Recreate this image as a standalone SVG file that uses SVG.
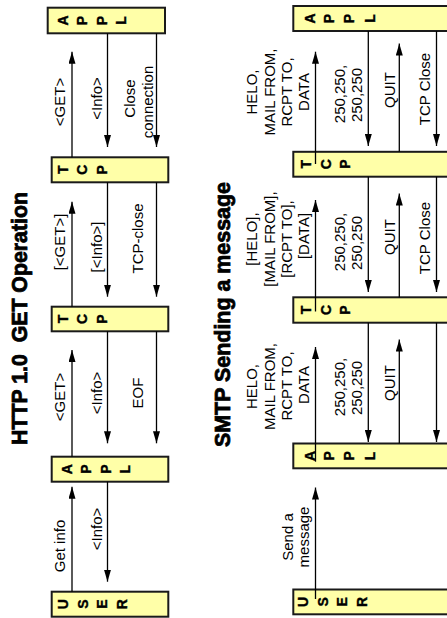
<svg xmlns="http://www.w3.org/2000/svg" width="447" height="618" viewBox="0 0 447 618">
<style>
.box{fill:#FFFFA8;stroke:#1a1a1a;stroke-width:2}
.lt{font-family:"Liberation Sans",Arial,sans-serif;font-weight:bold;font-size:14px;text-anchor:middle;dominant-baseline:central;fill:#000;stroke:#000;stroke-width:0.4}
.lb{font-family:"Liberation Sans",Arial,sans-serif;font-size:15px;text-anchor:middle;fill:#000}
.ttl{font-family:"Liberation Sans",Arial,sans-serif;font-weight:bold;font-size:22px;text-anchor:middle;fill:#000;stroke:#000;stroke-width:0.8}
.ar{stroke:#000;stroke-width:1.3;fill:none;marker-end:url(#ah)}
</style>
<defs>
<marker id="ah" viewBox="0 0 12 7" refX="12" refY="3.5" markerWidth="12" markerHeight="7" markerUnits="userSpaceOnUse" orient="auto"><path d="M0,0L12,3.5L0,7z" fill="#000"/></marker>
</defs>
<rect width="447" height="618" fill="#fff"/>

<!-- Titles -->
<text class="ttl" transform="translate(27,318.5) rotate(-90)" textLength="253" lengthAdjust="spacingAndGlyphs">HTTP 1.0&#160;&#160;GET Operation</text>
<text class="ttl" transform="translate(230,314.5) rotate(-90)" textLength="265" lengthAdjust="spacingAndGlyphs">SMTP Sending a message</text>

<!-- HTTP nodes -->
<g id="http-appl1">
<rect class="box" x="47.7" y="7.7" width="117.3" height="25.6"/>
<text class="lt" transform="translate(62.5,20.5) rotate(-90)">A</text>
<text class="lt" transform="translate(81.5,20.5) rotate(-90)">P</text>
<text class="lt" transform="translate(101.5,20.5) rotate(-90)">P</text>
<text class="lt" transform="translate(121,20.5) rotate(-90)">L</text>
</g>
<g id="http-tcp1">
<rect class="box" x="51.7" y="157.3" width="116.6" height="25"/>
<text class="lt" transform="translate(62.5,169.8) rotate(-90)">T</text>
<text class="lt" transform="translate(82,169.8) rotate(-90)">C</text>
<text class="lt" transform="translate(102,169.8) rotate(-90)">P</text>
</g>
<g id="http-tcp2">
<rect class="box" x="51.7" y="306.7" width="116.6" height="24.6"/>
<text class="lt" transform="translate(62.5,319) rotate(-90)">T</text>
<text class="lt" transform="translate(82,319) rotate(-90)">C</text>
<text class="lt" transform="translate(101.7,319) rotate(-90)">P</text>
</g>
<g id="http-appl2">
<rect class="box" x="51.7" y="456.7" width="116.6" height="25"/>
<text class="lt" transform="translate(66.5,469.2) rotate(-90)">A</text>
<text class="lt" transform="translate(85.5,469.2) rotate(-90)">P</text>
<text class="lt" transform="translate(105.5,469.2) rotate(-90)">P</text>
<text class="lt" transform="translate(125,469.2) rotate(-90)">L</text>
</g>
<g id="http-user">
<rect class="box" x="51.7" y="591.7" width="116.6" height="25"/>
<text class="lt" transform="translate(62.5,604.2) rotate(-90)">U</text>
<text class="lt" transform="translate(83,604.2) rotate(-90)">S</text>
<text class="lt" transform="translate(101.7,604.2) rotate(-90)">E</text>
<text class="lt" transform="translate(122,604.2) rotate(-90)">R</text>
</g>

<!-- SMTP nodes -->
<g id="smtp-appl1">
<rect class="box" x="293.3" y="6" width="170" height="25"/>
<text class="lt" transform="translate(310,18.5) rotate(-90)">A</text>
<text class="lt" transform="translate(329,18.5) rotate(-90)">P</text>
<text class="lt" transform="translate(349,18.5) rotate(-90)">P</text>
<text class="lt" transform="translate(370,18.5) rotate(-90)">L</text>
</g>
<g id="smtp-tcp1">
<rect class="box" x="293.3" y="151.8" width="170" height="24.9"/>
<text class="lt" transform="translate(306,164.2) rotate(-90)">T</text>
<text class="lt" transform="translate(326,164.2) rotate(-90)">C</text>
<text class="lt" transform="translate(345,164.2) rotate(-90)">P</text>
</g>
<g id="smtp-tcp2">
<rect class="box" x="293.3" y="297.3" width="170" height="25.4"/>
<text class="lt" transform="translate(306,310) rotate(-90)">T</text>
<text class="lt" transform="translate(326,310) rotate(-90)">C</text>
<text class="lt" transform="translate(345,310) rotate(-90)">P</text>
</g>
<g id="smtp-appl2">
<rect class="box" x="293.3" y="443.5" width="170" height="24.8"/>
<text class="lt" transform="translate(310,455.9) rotate(-90)">A</text>
<text class="lt" transform="translate(329,455.9) rotate(-90)">P</text>
<text class="lt" transform="translate(349,455.9) rotate(-90)">P</text>
<text class="lt" transform="translate(370,455.9) rotate(-90)">L</text>
</g>
<g id="smtp-user">
<rect class="box" x="293.3" y="589.5" width="170" height="24.8"/>
<text class="lt" transform="translate(302.5,601.9) rotate(-90)">U</text>
<text class="lt" transform="translate(322.5,601.9) rotate(-90)">S</text>
<text class="lt" transform="translate(341.5,601.9) rotate(-90)">E</text>
<text class="lt" transform="translate(362,601.9) rotate(-90)">R</text>
</g>

<!-- Connectors -->
<g id="connectors">
<path class="ar" d="M72,157.3V51.7"/>
<path class="ar" d="M107.5,33.3V147"/>
<path class="ar" d="M156.5,33.3V147"/>
<path class="ar" d="M72,306.7V201.7"/>
<path class="ar" d="M107.5,182.3V296.7"/>
<path class="ar" d="M156.5,182.3V296.7"/>
<path class="ar" d="M72,456.7V350"/>
<path class="ar" d="M107.5,331.3V443.3"/>
<path class="ar" d="M156.5,331.3V443.3"/>
<path class="ar" d="M72,591.7V486.7"/>
<path class="ar" d="M107.5,481.7V581.7"/>
<path class="ar" d="M315.5,164V51.7"/>
<path class="ar" d="M368.3,31V146"/>
<path class="ar" d="M399.3,151.8V43.5"/>
<path class="ar" d="M436.5,31V146"/>
<path class="ar" d="M315.5,311.5V200"/>
<path class="ar" d="M368.3,176.7V292"/>
<path class="ar" d="M399.3,297.3V193.5"/>
<path class="ar" d="M436.5,176.7V292"/>
<path class="ar" d="M315.5,461.7V347"/>
<path class="ar" d="M368.3,322.7V442"/>
<path class="ar" d="M399.3,443.5V339.5"/>
<path class="ar" d="M436.5,322.7V442"/>
<path class="ar" d="M315.5,599V487.5"/>
</g>

<!-- HTTP labels -->
<g id="http-labels">
<text class="lb" transform="translate(65,102) rotate(-90)">&lt;GET&gt;</text>
<text class="lb" transform="translate(101.5,98.5) rotate(-90)">&lt;Info&gt;</text>
<text class="lb" transform="translate(135,98.5) rotate(-90)">Close</text>
<text class="lb" transform="translate(153,102) rotate(-90)">connection</text>
<text class="lb" transform="translate(65,242) rotate(-90)">[&lt;GET&gt;]</text>
<text class="lb" transform="translate(101.5,247) rotate(-90)">[&lt;Info&gt;]</text>
<text class="lb" transform="translate(143,238.5) rotate(-90)">TCP-close</text>
<text class="lb" transform="translate(65,397) rotate(-90)">&lt;GET&gt;</text>
<text class="lb" transform="translate(101.5,393) rotate(-90)">&lt;Info&gt;</text>
<text class="lb" transform="translate(143,393) rotate(-90)">EOF</text>
<text class="lb" transform="translate(65,546) rotate(-90)">Get info</text>
<text class="lb" transform="translate(101.5,529) rotate(-90)">&lt;Info&gt;</text>
</g>

<!-- SMTP labels -->
<g id="smtp-labels">
<text class="lb" transform="translate(257,92) rotate(-90)">HELO,</text>
<text class="lb" transform="translate(274.5,92) rotate(-90)">MAIL FROM,</text>
<text class="lb" transform="translate(292,92) rotate(-90)">RCPT TO,</text>
<text class="lb" transform="translate(309,92) rotate(-90)">DATA</text>
<text class="lb" transform="translate(345,94) rotate(-90)">250,250,</text>
<text class="lb" transform="translate(362,95) rotate(-90)">250,250</text>
<text class="lb" transform="translate(395,90) rotate(-90)">QUIT</text>
<text class="lb" transform="translate(430,89) rotate(-90)">TCP Close</text>

<text class="lb" transform="translate(257,239) rotate(-90)">[HELO],</text>
<text class="lb" transform="translate(274.5,239) rotate(-90)">[MAIL FROM],</text>
<text class="lb" transform="translate(292,239) rotate(-90)">[RCPT TO],</text>
<text class="lb" transform="translate(309,236) rotate(-90)">[DATA]</text>
<text class="lb" transform="translate(345,242) rotate(-90)">250,250,</text>
<text class="lb" transform="translate(362,243) rotate(-90)">250,250</text>
<text class="lb" transform="translate(395,237) rotate(-90)">QUIT</text>
<text class="lb" transform="translate(430,238) rotate(-90)">TCP Close</text>

<text class="lb" transform="translate(257,386.5) rotate(-90)">HELO,</text>
<text class="lb" transform="translate(274.5,386.5) rotate(-90)">MAIL FROM,</text>
<text class="lb" transform="translate(292,386) rotate(-90)">RCPT TO,</text>
<text class="lb" transform="translate(309,385) rotate(-90)">DATA</text>
<text class="lb" transform="translate(345,387) rotate(-90)">250,250,</text>
<text class="lb" transform="translate(362,388) rotate(-90)">250,250</text>
<text class="lb" transform="translate(395,383) rotate(-90)">QUIT</text>

<text class="lb" transform="translate(293,537) rotate(-90)">Send a</text>
<text class="lb" transform="translate(309,537) rotate(-90)">message</text>
</g>
</svg>
